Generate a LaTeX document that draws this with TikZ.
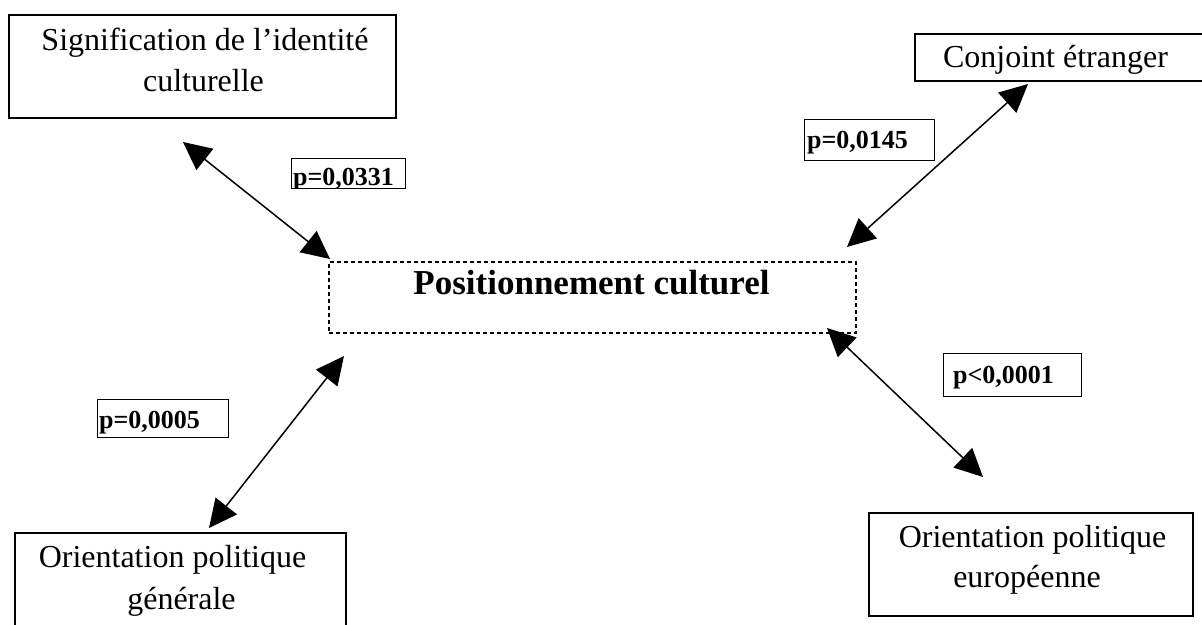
\documentclass[tikz,border=0pt]{standalone}
\usepackage{fontspec}
\setmainfont{Liberation Serif}
\usetikzlibrary{arrows.meta}

\begin{document}
\begin{tikzpicture}[x=1pt,y=-1pt,
  frame/.style={draw, line width=1.5pt, inner sep=0pt},
  pframe/.style={draw, line width=1pt, inner sep=0pt},
  dashframe/.style={draw, dash pattern=on 4pt off 3pt, line width=1.3pt, inner sep=0pt},
  txt/.style={font=\fontsize{32}{38}\selectfont, inner sep=0pt, anchor=base},
  title/.style={font=\bfseries\fontsize{35}{40}\selectfont, inner sep=0pt, anchor=base},
  ptxt/.style={font=\bfseries\fontsize{26}{30}\selectfont, inner sep=0pt, anchor=base west},
  link/.style={{Triangle[length=28pt,width=27pt]}-{Triangle[length=28pt,width=27pt]}, line width=1.5pt}]

  \clip (0,0) rectangle (1202,624);

  % central concept
  \node[dashframe, minimum width=527pt, minimum height=71pt] (pos) at (592.5,297.5) {};
  \node[title] (pos-t) at (591.5,294) {Positionnement culturel};

  % surrounding factors
  \node[frame, minimum width=387pt, minimum height=103pt] (sig) at (202.5,66.5) {};
  \node[txt] (sig-t1) at (205,50) {Signification de l’identité};
  \node[txt] (sig-t2) at (203.5,91) {culturelle};

  \node[frame, minimum width=300pt, minimum height=47pt] (conj) at (1065,57.5) {};
  \node[txt] (conj-t) at (1055.5,67) {Conjoint étranger};

  \node[frame, minimum width=331pt, minimum height=107pt] (gen) at (180.5,586.5) {};
  \node[txt] (gen-t1) at (172.5,567) {Orientation politique};
  \node[txt] (gen-t2) at (181.5,609) {générale};

  \node[frame, minimum width=324pt, minimum height=103pt] (eur) at (1031,564.5) {};
  \node[txt] (eur-t1) at (1032.5,547) {Orientation politique};
  \node[txt] (eur-t2) at (1027,587) {européenne};

  % p-values
  \node[pframe, minimum width=114pt, minimum height=30pt] (p1) at (348,173) {};
  \begin{scope}
    \clip (291,158) rectangle (405,188);
    \node[ptxt] (p1-t) at (293,185) {p=0,0331};
  \end{scope}

  \node[pframe, minimum width=130pt, minimum height=41pt] (p2) at (869,139.5) {};
  \node[ptxt] (p2-t) at (807,148) {p=0,0145};

  \node[pframe, minimum width=138pt, minimum height=43pt] (p3) at (1012,374.5) {};
  \node[ptxt] (p3-t) at (953,383) {p<0,0001};

  \node[pframe, minimum width=131pt, minimum height=38pt] (p4) at (162.5,418) {};
  \node[ptxt] (p4-t) at (99,428) {p=0,0005};

  % arrow ends
  \coordinate (sig-end) at (183,142);
  \coordinate (pos-nw) at (330,259);
  \coordinate (conj-end) at (1028,84);
  \coordinate (pos-ne) at (847,247);
  \coordinate (pos-sw) at (344,356);
  \coordinate (gen-end) at (209,528);
  \coordinate (pos-se) at (827,328);
  \coordinate (eur-end) at (983,477);

  \draw[link] (sig-end) -- (pos-nw);
  \draw[link] (conj-end) -- (pos-ne);
  \draw[link] (pos-sw) -- (gen-end);
  \draw[link] (pos-se) -- (eur-end);
\end{tikzpicture}
\end{document}
